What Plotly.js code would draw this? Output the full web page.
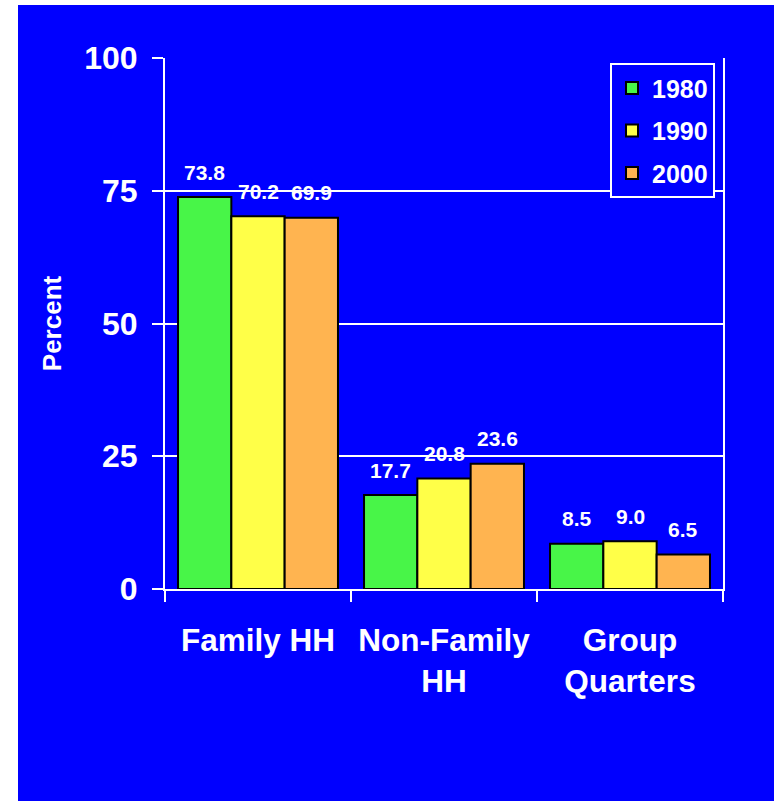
<!DOCTYPE html>
<html>
<head>
<meta charset="utf-8">
<script src="https://cdn.plot.ly/plotly-3.0.1.min.js"></script>
<style>
  body { margin: 0; background: #ffffff; }
  #chart { position: absolute; left: 18px; top: 5px; width: 756px; height: 796px; }
</style>
</head>
<body>
<div id="chart"></div>
<script>
// household type shares, percent
const categories = ["Family HH", "Non-Family<br>HH", "Group<br>Quarters"];
const years = ["1980", "1990", "2000"];
const values1980 = [73.8, 17.7, 8.5];
const values1990 = [70.2, 20.8, 9.0];
const values2000 = [69.9, 23.6, 6.5];
const yTicks = [0, 25, 50, 75, 100];

const series = [values1980, values1990, values2000];
const colors = ["#48f548", "#ffff48", "#ffb450"];
const font = "Liberation Sans, Arial, sans-serif";

let traces = [];
let labels = [];
for (let i = 0; i < series.length; i++) {
    traces.push({
        type: 'bar',
        name: years[i],
        legendgroup: years[i],
        x: categories,
        y: series[i],
        marker: { color: colors[i], line: { color: '#000000', width: 2 } },
        hoverinfo: 'none'
    });
    for (let j = 0; j < categories.length; j++) {
        labels.push({
            x: categories[j],
            y: series[i][j],
            text: series[i][j].toFixed(1),
            showarrow: false,
            xshift: (i - 1) * 53.3,
            yshift: 25,
            yanchor: 'middle',
            font: { family: font, size: 21, color: '#ffffff', weight: 'bold' }
        });
    }
}

let layout = {
    width: 756,
    height: 796,
    paper_bgcolor: '#0000ff',
    plot_bgcolor: '#0000ff',
    margin: { l: 147, r: 51, t: 53, b: 212 },
    bargap: 0.14,
    bargroupgap: 0,
    showlegend: true,
    legend: {
        x: 0.9857, xanchor: 'right',
        y: 0.99, yanchor: 'top',
        bgcolor: '#0000ff',
        bordercolor: '#ffffff',
        borderwidth: 2,
        tracegroupgap: 7,
        font: { family: font, size: 25, color: '#ffffff', weight: 'bold' }
    },
    xaxis: {
        type: 'category',
        showline: true, linecolor: '#ffffff', linewidth: 2,
        ticks: 'outside', tickson: 'boundaries', ticklen: 11, tickwidth: 2, tickcolor: '#ffffff',
        ticklabelstandoff: 22,
        tickfont: { family: font, size: 31.5, color: '#ffffff', weight: 'bold' },
        showgrid: false
    },
    yaxis: {
        range: [0, 100],
        tickvals: yTicks,
        ticktext: yTicks.map(String),
        showline: true, mirror: true, linecolor: '#ffffff', linewidth: 2,
        ticks: 'outside', ticklen: 11, tickwidth: 2, tickcolor: '#ffffff',
        ticklabelstandoff: 8,
        showgrid: true, gridcolor: '#ffffff', gridwidth: 2,
        zeroline: false,
        tickfont: { family: font, size: 32, color: '#ffffff', weight: 'bold' },
        title: {
            text: 'Percent',
            standoff: 15,
            font: { family: font, size: 26, color: '#ffffff', weight: 'bold' }
        }
    },
    annotations: labels
};

Plotly.newPlot("chart", traces, layout, { staticPlot: true });
</script>
</body>
</html>
